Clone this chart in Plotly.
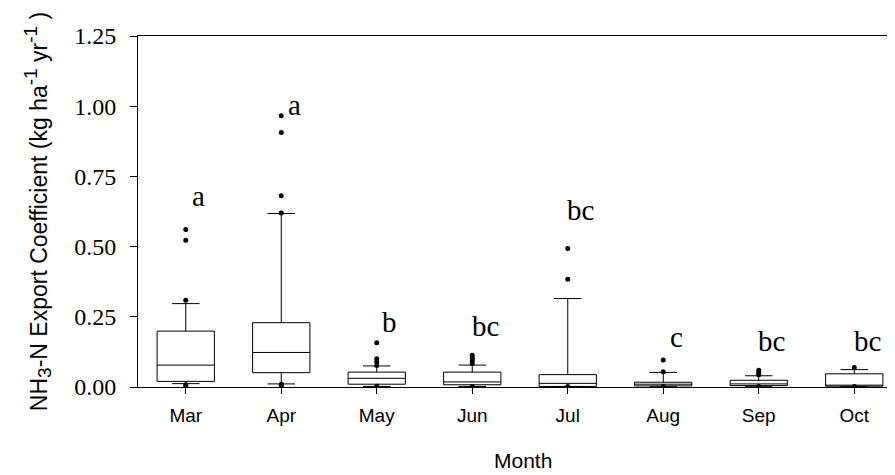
import plotly.graph_objects as go

months = ["Mar", "Apr", "May", "Jun", "Jul", "Aug", "Sep", "Oct"]
q1 = [0.020, 0.051, 0.010, 0.008, 0.002, 0.004, 0.005, 0.003]
median = [0.078, 0.123, 0.031, 0.018, 0.013, 0.010, 0.011, 0.006]
q3 = [0.199, 0.229, 0.053, 0.053, 0.044, 0.017, 0.024, 0.047]
lower_whisker = [0.012, 0.011, 0.002, 0.002, 0.001, 0.001, 0.001, 0.001]
upper_whisker = [0.297, 0.618, 0.075, 0.078, 0.315, 0.052, 0.040, 0.062]

outliers_mar = [0.561, 0.523, 0.309, 0.008, 0.003]
outliers_apr = [0.966, 0.906, 0.681, 0.620, 0.010, 0.004]
outliers_may = [0.158, 0.101, 0.089, 0.077, 0.003]
outliers_jun = [0.113, 0.103, 0.094, 0.084, 0.002]
outliers_jul = [0.493, 0.384, 0.002]
outliers_aug = [0.096, 0.054, 0.002]
outliers_sep = [0.060, 0.051, 0.044, 0.002]
outliers_oct = [0.069, 0.002]

group_letters = ["a", "a", "b", "bc", "bc", "c", "bc", "bc"]
letter_heights = [0.68, 1.004, 0.23, 0.217, 0.63, 0.178, 0.164, 0.164]

y_ticks = [0, 0.25, 0.5, 0.75, 1.0, 1.25]
y_tick_text = ["0.00", "0.25", "0.50", "0.75", "1.00", "1.25"]

outlier_groups = [outliers_mar, outliers_apr, outliers_may, outliers_jun,
                  outliers_jul, outliers_aug, outliers_sep, outliers_oct]
ox, oy = [], []
for m, vals in zip(months, outlier_groups):
    for v in vals:
        ox.append(m)
        oy.append(v)

fig = go.Figure()
fig.add_trace(go.Box(
    x=months, q1=q1, median=median, q3=q3,
    lowerfence=lower_whisker, upperfence=upper_whisker,
    width=0.6, whiskerwidth=0.48,
    line=dict(color="black", width=1), fillcolor="white",
    boxpoints=False, showlegend=False, hoverinfo="skip",
))
fig.add_trace(go.Scatter(
    x=ox, y=oy, mode="markers",
    marker=dict(symbol="circle", size=5, color="black"),
    showlegend=False, hoverinfo="skip",
))

for m, lab, h in zip(months, group_letters, letter_heights):
    fig.add_annotation(x=m, y=h, text=lab, showarrow=False, xshift=13,
                       font=dict(family="Liberation Serif", size=29, color="black"))

fig.add_annotation(x=3.53, y=0, xref="x", yref="paper", yshift=-73, yanchor="middle",
                   text="Month", showarrow=False,
                   font=dict(family="Liberation Sans", size=21, color="black"))

small = "<span style='font-size:19px'>{}</span>"
y_title = ("NH<sub>" + small.format("3") + "</sub>-N Export Coefficient (kg ha<sup>"
           + small.format("-1") + "</sup> yr<sup>" + small.format("-1") + "</sup> )")

fig.update_layout(
    width=895, height=475,
    margin=dict(l=130, r=1, t=28, b=96),
    plot_bgcolor="white", paper_bgcolor="white",
    xaxis=dict(
        type="category", categoryorder="array", categoryarray=months,
        range=[-0.5, 7.5], showline=True, linecolor="black", linewidth=1,
        mirror=True, ticks="outside", ticklen=6, tickcolor="black",
        ticklabelstandoff=5,
        showgrid=False, zeroline=False,
        tickfont=dict(family="Liberation Sans", size=19, color="black"),
    ),
    yaxis=dict(
        range=[0, 1.25], tickvals=y_ticks, ticktext=y_tick_text,
        showline=True, linecolor="black", linewidth=1,
        ticks="outside", ticklen=7, tickcolor="black",
        ticklabelstandoff=9,
        showgrid=False, zeroline=False,
        tickfont=dict(family="Liberation Serif", size=24, color="black"),
        title=dict(text=y_title,
                   font=dict(family="Liberation Sans", size=23, color="black"),
                   standoff=20),
    ),
)

fig.write_html("out.html")
